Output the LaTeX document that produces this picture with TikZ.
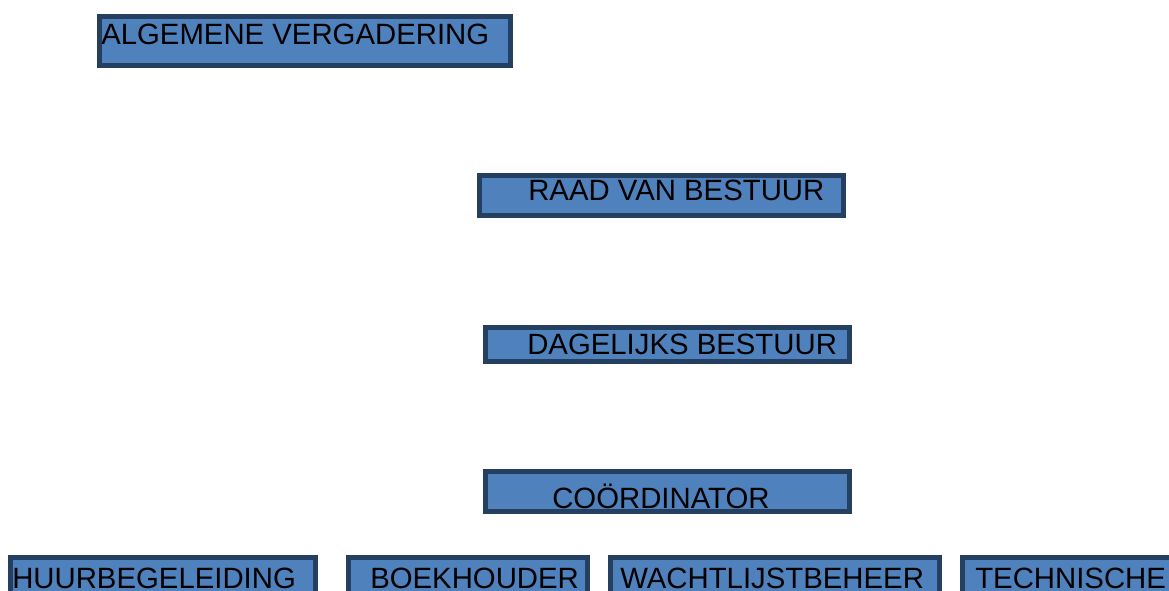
\documentclass[tikz,border=0pt]{standalone}
\usepackage{fontspec}
\setmainfont{Liberation Sans}
\definecolor{boxfill}{HTML}{4F81BD}
\definecolor{boxline}{HTML}{243F60}
\tikzset{
  orgbox/.style={draw=boxline, fill=boxfill, line width=3.6pt, rectangle},
  orglabel/.style={inner sep=0pt, anchor=base west, text=black, font=\fontsize{22pt}{24pt}\selectfont}
}
\begin{document}
\begin{tikzpicture}[x=0.75pt,y=-0.75pt]
\clip (0,0) rectangle (1169,591);
\fill[white] (0,0) rectangle (1169,591);
\draw[orgbox] (99.5,16.5) rectangle (510.5,65.5);
\node[orglabel] (av) at (101,45) {ALGEMENE VERGADERING};
\draw[orgbox] (479.5,175.5) rectangle (843.5,215.5);
\node[orglabel] (rvb) at (528,201) {RAAD VAN BESTUUR};
\draw[orgbox] (485.5,327.5) rectangle (849.5,361.5);
\node[orglabel] (db) at (527,354) {DAGELIJKS BESTUUR};
\draw[orgbox] (485.5,471.5) rectangle (849.5,511.5);
\node[orglabel] (co) at (552,508) {COÖRDINATOR};
\draw[orgbox] (10.5,557.5) rectangle (315.5,600);
\node[orglabel] (hb) at (12,588) {HUURBEGELEIDING};
\draw[orgbox] (348.5,557.5) rectangle (587.5,600);
\node[orglabel] (bh) at (370,588) {BOEKHOUDER};
\draw[orgbox] (610.5,557.5) rectangle (939.5,600);
\node[orglabel] (wl) at (620,588) {WACHTLIJSTBEHEER};
\draw[orgbox] (962.5,557.5) rectangle (1180,600);
\node[orglabel] (tc) at (975,588) {TECHNISCHE};
\end{tikzpicture}
\end{document}
